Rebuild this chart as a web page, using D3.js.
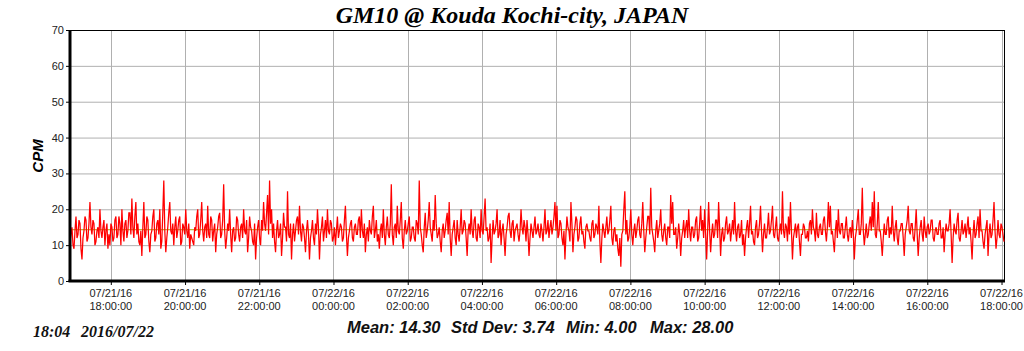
<!DOCTYPE html>
<html><head><meta charset="utf-8">
<script src="https://cdn.jsdelivr.net/npm/d3@7"></script>
<style>body{margin:0;background:#fff}svg{display:block}</style>
</head><body>
<script>
const titleText = "GM10 @ Kouda Kochi-city, JAPAN";
const yLabel = "CPM";
const stampParts = ["18:04", "2016/07/22"];
const statLabels = ["Mean: 14.30", "Std Dev: 3.74", "Min: 4.00", "Max: 28.00"];
const meanValue = 14.30;
const yTicks = [0, 10, 20, 30, 40, 50, 60, 70];
const startTime = "2016-07-21T16:54:00";
const endTime = "2016-07-22T18:04:00";
const tickTimes = ["2016-07-21T18:00:00","2016-07-21T20:00:00","2016-07-21T22:00:00","2016-07-22T00:00:00","2016-07-22T02:00:00","2016-07-22T04:00:00","2016-07-22T06:00:00","2016-07-22T08:00:00","2016-07-22T10:00:00","2016-07-22T12:00:00","2016-07-22T14:00:00","2016-07-22T16:00:00","2016-07-22T18:00:00"];
const tickDates = ["07/21/16","07/21/16","07/21/16","07/22/16","07/22/16","07/22/16","07/22/16","07/22/16","07/22/16","07/22/16","07/22/16","07/22/16","07/22/16"];
const tickClock = ["18:00:00","20:00:00","22:00:00","00:00:00","02:00:00","04:00:00","06:00:00","08:00:00","10:00:00","12:00:00","14:00:00","16:00:00","18:00:00"];
const cpm = [
11,13,15,10,9,14,18,12,13,17,16,9,6,12,14,18,17,11,12,16,22,15,13,17,16,10,11,14,15,12,20,14,12,15,17,10,14,16,9,13,
10,16,15,11,12,17,18,12,13,18,16,10,20,14,11,16,17,12,14,19,19,13,23,15,12,18,22,13,16,11,10,14,7,15,22,12,13,18,17,11,
8,13,14,18,20,11,12,16,17,13,20,9,11,19,28,14,8,12,15,19,22,14,13,16,10,15,18,12,14,17,18,10,11,16,15,13,20,14,12,16,
9,13,12,11,10,15,14,18,20,12,13,17,22,14,11,15,16,12,21,13,12,18,17,11,14,16,8,13,15,18,19,12,13,17,27,14,9,12,16,14,
20,13,8,14,15,11,12,18,17,13,11,15,16,12,20,14,13,17,8,12,18,15,14,11,10,16,6,12,15,17,12,10,17,14,22,16,14,19,24,13,
28,16,20,12,16,11,8,14,17,12,13,16,7,12,19,15,15,11,25,13,12,16,6,13,16,11,14,17,18,13,21,14,11,16,15,12,8,14,17,13,
6,12,14,17,12,10,16,13,20,15,6,13,15,18,11,14,17,12,20,14,13,17,16,11,12,15,10,14,18,12,14,16,15,11,12,17,21,13,7,12,
14,16,17,12,11,15,16,13,13,17,18,12,20,14,12,16,8,13,15,11,17,14,13,18,21,12,14,17,11,13,9,14,16,12,20,13,10,15,18,13,
12,16,27,13,10,15,16,12,21,14,13,17,22,12,9,14,17,13,14,16,18,11,12,15,15,12,11,17,16,13,28,15,13,10,8,15,19,12,14,17,
22,15,13,11,17,14,24,16,12,13,15,11,8,14,16,12,14,17,19,13,22,12,7,13,15,17,12,10,17,13,11,15,20,13,14,17,16,12,7,14,
16,13,20,14,12,17,18,12,11,16,15,12,20,14,13,18,23,14,15,11,12,16,5,12,17,13,14,16,20,12,13,17,10,14,16,12,7,13,15,18,
19,14,12,16,17,11,14,15,16,13,11,14,20,15,13,17,15,11,17,13,7,12,16,14,12,15,18,13,14,16,13,12,16,14,11,15,20,13,14,17,
12,15,17,13,15,18,22,14,21,12,13,17,16,12,10,14,6,13,18,15,14,11,22,16,8,13,15,18,17,11,12,16,18,13,14,11,9,15,16,14,
14,12,11,16,17,12,13,16,15,13,21,11,5,12,16,14,12,15,18,13,14,17,21,12,10,14,15,11,13,9,7,12,4,13,14,20,25,13,17,11,
12,15,20,13,10,14,16,12,14,17,18,13,12,16,22,14,8,12,15,18,18,13,26,15,13,11,8,14,17,12,14,16,20,13,11,14,16,12,10,15,
15,12,24,16,22,13,13,15,9,12,16,13,7,12,14,17,12,15,17,12,20,14,11,15,15,12,13,17,18,11,12,16,21,14,17,12,20,13,6,14,
22,14,8,13,16,12,13,17,17,12,22,15,7,13,15,11,12,16,18,13,14,16,11,14,17,13,22,14,11,15,16,12,13,17,10,13,7,12,15,17,
12,16,21,13,14,11,10,15,17,12,13,16,21,14,8,13,16,12,12,15,19,13,14,17,21,13,12,15,18,12,11,14,16,13,25,14,12,16,15,11,
18,13,22,14,6,12,14,16,12,15,16,11,7,13,13,16,15,12,12,14,11,16,17,13,20,15,14,11,19,13,12,15,16,13,13,17,18,14,11,15,
22,15,21,13,14,11,8,14,17,12,20,14,13,16,16,12,12,15,18,13,11,14,15,12,17,13,6,12,14,17,20,13,13,16,26,14,10,13,16,12,
13,16,18,14,22,15,25,13,12,16,22,14,14,11,7,12,16,13,13,17,18,12,15,13,21,14,11,15,17,12,10,14,14,16,16,12,7,13,15,17,
21,14,13,16,16,12,11,15,20,13,7,12,15,17,13,11,18,14,12,15,16,13,14,17,17,12,11,14,15,13,13,16,17,12,12,15,8,13,16,14,
14,16,20,13,5,12,16,14,13,17,19,12,11,14,17,13,14,16,12,15,18,13,15,11,6,13,17,12,13,16,18,12,20,14,14,11,9,13,15,17,
7,13,16,12,13,17,22,14,9,12,17,13,12,16,15,13,11
];

const W = 1024, H = 351;
const L = 70, R = 1004, T = 30, B = 281;
const svg = d3.select("body").append("svg").attr("width", W).attr("height", H);
const parse = d3.isoParse;
const t0 = parse(startTime), t1 = parse(endTime);
const x = d3.scaleTime().domain([t0, t1]).range([L, R]);
const y = d3.scaleLinear().domain([0, 70]).range([B, T]);
const step = (t1 - t0) / (cpm.length - 1);
const pts = cpm.map((v, i) => ({t: new Date(+t0 + i * step), v}));
const ticks = tickTimes.map(parse);

// grid
svg.append("g").selectAll("line").data(yTicks.slice(1)).join("line")
  .attr("x1", L).attr("x2", R).attr("y1", d => y(d) + 0.5).attr("y2", d => y(d) + 0.5)
  .attr("stroke", "#b0b0b0").attr("stroke-width", 1);
svg.append("g").selectAll("line").data(ticks).join("line")
  .attr("x1", d => Math.round(x(d)) + 0.5).attr("x2", d => Math.round(x(d)) + 0.5)
  .attr("y1", T).attr("y2", B)
  .attr("stroke", "#b0b0b0").attr("stroke-width", 1);

// frame top / right
svg.append("line").attr("x1", L).attr("x2", R + 0.5).attr("y1", T + 0.5).attr("y2", T + 0.5).attr("stroke", "#000");
svg.append("line").attr("x1", R + 0.5).attr("x2", R + 0.5).attr("y1", T).attr("y2", B).attr("stroke", "#000");

// mean line
svg.append("line").attr("x1", L).attr("x2", R).attr("y1", y(meanValue)).attr("y2", y(meanValue))
  .attr("stroke", "#b0a000").attr("stroke-width", 1);

// data
svg.append("path").datum(pts)
  .attr("d", d3.line().x(d => x(d.t)).y(d => y(d.v)))
  .attr("fill", "none").attr("stroke", "#ff0000").attr("stroke-width", 1.25);

// y axis
const yAxis = svg.append("g").attr("transform", `translate(${L},0)`)
  .call(d3.axisLeft(y).tickValues(yTicks).tickSize(4).tickPadding(2));
yAxis.select(".domain").remove();
yAxis.selectAll("text").attr("font-family", "Arial, 'Liberation Sans', sans-serif").attr("font-size", 11).attr("fill", "#222");
svg.append("line").attr("x1", L).attr("x2", L).attr("y1", T).attr("y2", B + 1)
  .attr("stroke", "#000").attr("stroke-width", 3);

// x axis
const xAxis = svg.append("g").attr("transform", `translate(0,${B})`)
  .call(d3.axisBottom(x).tickValues(ticks).tickSize(4).tickFormat(() => ""));
xAxis.select(".domain").remove();
svg.append("line").attr("x1", L - 1.5).attr("x2", R + 1).attr("y1", B).attr("y2", B)
  .attr("stroke", "#000").attr("stroke-width", 3);
const xl = svg.append("g").selectAll("text").data(ticks).join("text")
  .attr("x", d => x(d)).attr("text-anchor", "middle")
  .attr("font-family", "Arial, 'Liberation Sans', sans-serif").attr("font-size", 11).attr("fill", "#222");
xl.append("tspan").attr("x", d => x(d)).attr("y", 297).text((d, i) => tickDates[i]);
xl.append("tspan").attr("x", d => x(d)).attr("y", 310).text((d, i) => tickClock[i]);

// title
svg.append("text").attr("x", 512).attr("y", 23).attr("text-anchor", "middle")
  .attr("font-family", "'Liberation Serif', 'Times New Roman', serif").attr("font-weight", "bold").attr("font-style", "italic")
  .attr("font-size", 24).attr("fill", "#000").text(titleText);

// y label
svg.append("text").attr("transform", "translate(43,156) rotate(-90)").attr("text-anchor", "middle")
  .attr("font-family", "Arial, 'Liberation Sans', sans-serif").attr("font-weight", "bold").attr("font-style", "italic")
  .attr("font-size", 15).attr("fill", "#000").text(yLabel);

// stats
const statX = [347, 451, 566, 650];
svg.append("g").selectAll("text").data(statLabels).join("text")
  .attr("x", (d, i) => statX[i]).attr("y", 333)
  .attr("font-family", "Arial, 'Liberation Sans', sans-serif").attr("font-weight", "bold").attr("font-style", "italic")
  .attr("font-size", 16.5).attr("fill", "#111").text(d => d);

// timestamp
const stampX = [33, 81];
svg.append("g").selectAll("text").data(stampParts).join("text")
  .attr("x", (d, i) => stampX[i]).attr("y", 337)
  .attr("font-family", "'Liberation Serif', 'Times New Roman', serif").attr("font-weight", "bold").attr("font-style", "italic")
  .attr("font-size", 16).attr("fill", "#111").text(d => d);
</script>
</body></html>
